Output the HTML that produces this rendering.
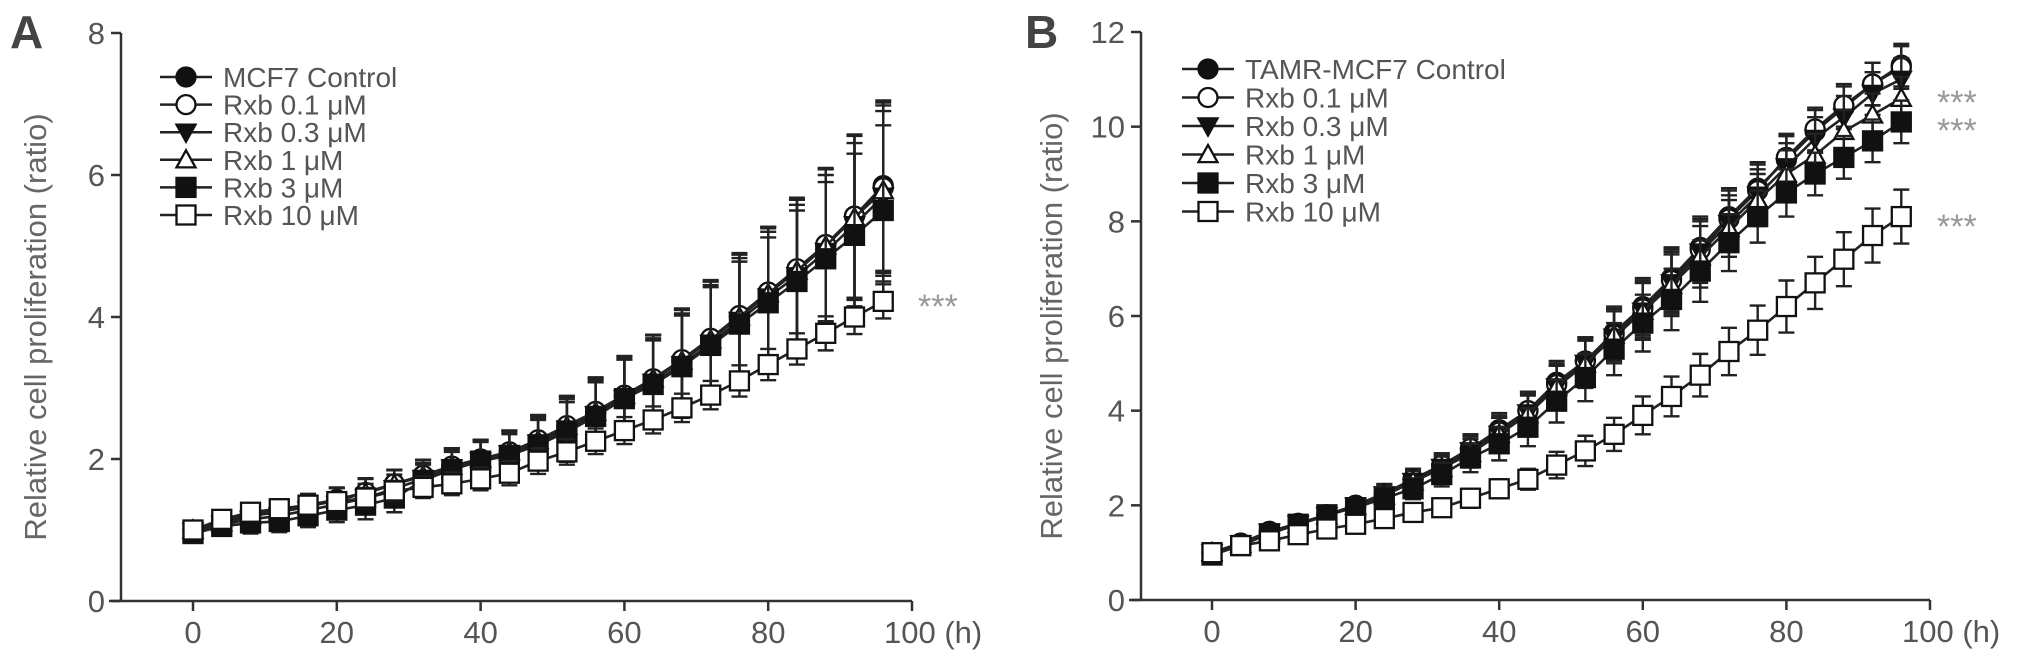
<!DOCTYPE html>
<html><head><meta charset="utf-8"><style>
body{margin:0;background:#fff}
svg{display:block;font-family:"Liberation Sans",Arial,sans-serif}
</style></head><body>
<svg id="c" width="2031" height="659" viewBox="0 0 2031 659" xmlns="http://www.w3.org/2000/svg"></svg>
<script>
const hours=[0,4,8,12,16,20,24,28,32,36,40,44,48,52,56,60,64,68,72,76,80,84,88,92,96];
const seriesNames=["Control","Rxb 0.1 μM","Rxb 0.3 μM","Rxb 1 μM","Rxb 3 μM","Rxb 10 μM"];
const markers=["fcircle","ocircle","ftri","otri","fsq","osq"];
const xTicks=[0,20,40,60,80,100];
const yTicksA=[0,2,4,6,8];
const yTicksB=[0,2,4,6,8,10,12];
// Panel A (MCF7)
const aCtrl=[1.0,1.1,1.2,1.25,1.33,1.42,1.52,1.65,1.77,1.9,2.0,2.1,2.25,2.45,2.65,2.88,3.12,3.38,3.68,4.0,4.35,4.65,5.0,5.42,5.85];
const a01=[1.0,1.12,1.22,1.28,1.35,1.43,1.53,1.65,1.77,1.9,2.0,2.1,2.27,2.47,2.67,2.9,3.13,3.4,3.7,4.02,4.35,4.68,5.02,5.42,5.82];
const a03=[0.98,1.08,1.15,1.2,1.28,1.36,1.45,1.58,1.72,1.87,1.97,2.07,2.22,2.42,2.62,2.85,3.08,3.33,3.63,3.95,4.28,4.58,4.92,5.3,5.7];
const a1=[1.0,1.1,1.2,1.26,1.34,1.42,1.52,1.64,1.76,1.9,2.0,2.1,2.26,2.46,2.66,2.9,3.13,3.38,3.68,4.0,4.33,4.65,5.0,5.4,5.78];
const a3=[0.95,1.05,1.1,1.12,1.2,1.28,1.35,1.45,1.7,1.85,1.97,2.05,2.2,2.38,2.6,2.85,3.05,3.3,3.6,3.9,4.2,4.5,4.82,5.15,5.5];
const a10=[1.0,1.15,1.25,1.3,1.35,1.4,1.45,1.55,1.6,1.65,1.72,1.8,1.97,2.1,2.25,2.4,2.55,2.72,2.9,3.1,3.33,3.55,3.77,4.0,4.22];
const aErr=[0.1,0.12,0.15,0.15,0.16,0.17,0.2,0.2,0.22,0.25,0.27,0.3,0.35,0.42,0.48,0.55,0.62,0.72,0.82,0.88,0.92,1.0,1.08,1.15,1.2];
const aErr10=[0.08,0.1,0.1,0.1,0.12,0.12,0.14,0.14,0.15,0.16,0.16,0.17,0.18,0.18,0.18,0.19,0.19,0.2,0.2,0.22,0.22,0.22,0.24,0.24,0.24];
// Panel B (TAMR-MCF7)
const bCtrl=[1.0,1.2,1.45,1.6,1.8,2.0,2.25,2.55,2.85,3.2,3.6,4.0,4.6,5.05,5.65,6.2,6.8,7.45,8.1,8.7,9.3,9.9,10.4,10.9,11.3];
const b01=[1.0,1.2,1.45,1.62,1.8,2.0,2.25,2.55,2.85,3.2,3.55,4.0,4.55,5.05,5.6,6.15,6.75,7.4,8.05,8.65,9.35,9.95,10.45,10.9,11.25];
const b03=[1.0,1.18,1.43,1.6,1.78,1.98,2.22,2.5,2.8,3.15,3.5,3.95,4.5,5.0,5.55,6.1,6.7,7.35,7.95,8.55,9.15,9.75,10.2,10.7,11.0];
const b1=[1.0,1.18,1.42,1.6,1.78,1.98,2.2,2.5,2.78,3.1,3.5,3.92,4.5,4.98,5.6,6.1,6.65,7.25,7.85,8.45,9.0,9.4,9.9,10.25,10.6];
const b3=[0.95,1.15,1.4,1.6,1.8,1.95,2.15,2.35,2.65,3.0,3.3,3.65,4.2,4.7,5.3,5.85,6.35,6.95,7.55,8.1,8.6,9.0,9.35,9.7,10.1];
const b10=[1.0,1.15,1.25,1.38,1.5,1.6,1.72,1.85,1.95,2.15,2.35,2.55,2.85,3.15,3.5,3.9,4.3,4.75,5.25,5.7,6.2,6.7,7.2,7.7,8.1];
const bErr=[0.1,0.1,0.12,0.12,0.13,0.15,0.2,0.22,0.25,0.3,0.35,0.4,0.45,0.5,0.55,0.6,0.65,0.65,0.6,0.55,0.5,0.45,0.45,0.45,0.45];
const bErr10=[0.1,0.1,0.1,0.1,0.1,0.12,0.14,0.15,0.17,0.2,0.2,0.22,0.28,0.32,0.35,0.4,0.42,0.45,0.5,0.52,0.55,0.55,0.57,0.57,0.57];

const svg=document.getElementById('c');
const NS="http://www.w3.org/2000/svg";
function mk(tag,attrs,parent){const e=document.createElementNS(NS,tag);for(const k in attrs)e.setAttribute(k,attrs[k]);(parent||svg).appendChild(e);return e;}

function panel(cfg){
  const g=mk('g',{});
  
  
  const X=h=>cfg.x0+(h)*(cfg.x100-cfg.x0)/100;
  const Y=v=>cfg.y0-v*(cfg.y0-cfg.yTop)/cfg.yMax;
  const axisC='#333';
  const ya=mk('line',{x1:cfg.axL,y1:Y(cfg.yMax),x2:cfg.axL,y2:cfg.y0,stroke:axisC,'stroke-width':2.5},g);
  
  
  const xa=mk('line',{x1:cfg.axL-12,y1:cfg.y0,x2:X(100),y2:cfg.y0,stroke:axisC,'stroke-width':2.5},g);
  
  
  cfg.yTicks.forEach(v=>{
    mk('line',{x1:cfg.axL-10,y1:Y(v),x2:cfg.axL,y2:Y(v),stroke:axisC,'stroke-width':2.5},g);
    const t=mk('text',{x:cfg.axL-16,y:Y(v)+11,'text-anchor':'end','font-size':31,fill:'#555'},g);
    t.textContent=v;
    
    
  });
  xTicks.forEach(v=>{
    mk('line',{x1:X(v),y1:cfg.y0,x2:X(v),y2:cfg.y0+10,stroke:axisC,'stroke-width':2.5},g);
    const t=mk('text',{x:X(v),y:cfg.y0+42,'text-anchor':v===100?'start':'middle','font-size':31,fill:'#555'},g);
    if(v===100){t.setAttribute('x',X(v)-28);}
    t.textContent=v===100?'100 (h)':v;
    
    
  });
  const yt=mk('text',{x:0,y:0,'text-anchor':'middle','font-size':31,fill:'#666',transform:`translate(${cfg.titleX},${(cfg.y0+cfg.yTop)/2+10}) rotate(-90)`},g);
  yt.textContent='Relative cell proliferation (ratio)';
  
  
  const lab=mk('text',{x:cfg.labX,y:48,'font-size':46,'font-weight':'bold',fill:'#444'},g);
  lab.textContent=cfg.label;
  
  
  cfg.series.forEach((s,i)=>{
    const sg=mk('g',{},g);
    
    
    const err=cfg.errs[i];
    hours.forEach((h,j)=>{
      const x=X(h),y1=Y(s[j]+err[j]),y2=Y(Math.max(0,s[j]-err[j]));
      mk('path',{d:`M${x},${y1}V${y2}M${x-8},${y1}H${x+8}M${x-8},${y2}H${x+8}`,stroke:'#222','stroke-width':2.4,fill:'none'},sg);
    });
    const pl=mk('polyline',{points:hours.map((h,j)=>X(h)+','+Y(s[j])).join(' '),fill:'none',stroke:'#222','stroke-width':2.6},sg);
    
    
    hours.forEach((h,j)=>{const m=marker(markers[i],X(h),Y(s[j]),sg);});
  });
  cfg.legend.forEach((txt,i)=>{
    const y=cfg.legY+i*cfg.legDy;
    const lg=mk('g',{},g);
    
    
    mk('line',{x1:cfg.legX,y1:y,x2:cfg.legX+52,y2:y,stroke:'#222','stroke-width':2.5},lg);
    marker(markers[i],cfg.legX+26,y,lg);
    const t=mk('text',{x:cfg.legX+63,y:y+10,'font-size':28,fill:'#555'},lg);
    t.textContent=txt;
  });
  cfg.stars.forEach(sy=>{
    const t=mk('text',{x:cfg.starX,y:sy+18,'font-size':34,fill:'#999'},g);
    t.textContent='***';
    
    
  });
}
function marker(type,x,y,p){
  const s=9.5;
  const fill=type[0]==='f'?'#111':'#fff';
  const st={stroke:'#111','stroke-width':2.3,fill:fill};
  if(type.endsWith('circle'))return mk('circle',Object.assign({cx:x,cy:y,r:s},st),p);
  if(type.endsWith('sq'))return mk('rect',Object.assign({x:x-s,y:y-s,width:2*s,height:2*s},st),p);
  if(type==='ftri')return mk('polygon',Object.assign({points:`${x-s},${y-s*0.8} ${x+s},${y-s*0.8} ${x},${y+s}`},st),p);
  return mk('polygon',Object.assign({points:`${x-s},${y+s*0.8} ${x+s},${y+s*0.8} ${x},${y-s}`},st),p);
}
panel({name:'panel-a-mcf7',label:'A',labX:10,axL:121,x0:193,x100:912,y0:601,yTop:33,yMax:8,yTicks:yTicksA,titleX:46,
  series:[aCtrl,a01,a03,a1,a3,a10],errs:[aErr,aErr,aErr,aErr,aErr,aErr10],
  legend:['MCF7 Control','Rxb 0.1 μM','Rxb 0.3 μM','Rxb 1 μM','Rxb 3 μM','Rxb 10 μM'],legX:160,legY:77,legDy:27.6,
  starX:918,stars:[300]});
panel({name:'panel-b-tamr-mcf7',label:'B',labX:1025,axL:1141,x0:1212,x100:1930,y0:600,yTop:32,yMax:12,yTicks:yTicksB,titleX:1062,
  series:[bCtrl,b01,b03,b1,b3,b10],errs:[bErr,bErr,bErr,bErr,bErr,bErr10],
  legend:['TAMR-MCF7 Control','Rxb 0.1 μM','Rxb 0.3 μM','Rxb 1 μM','Rxb 3 μM','Rxb 10 μM'],legX:1182,legY:69,legDy:28.5,
  starX:1937,stars:[96,124,220]});
</script>
</body></html>
